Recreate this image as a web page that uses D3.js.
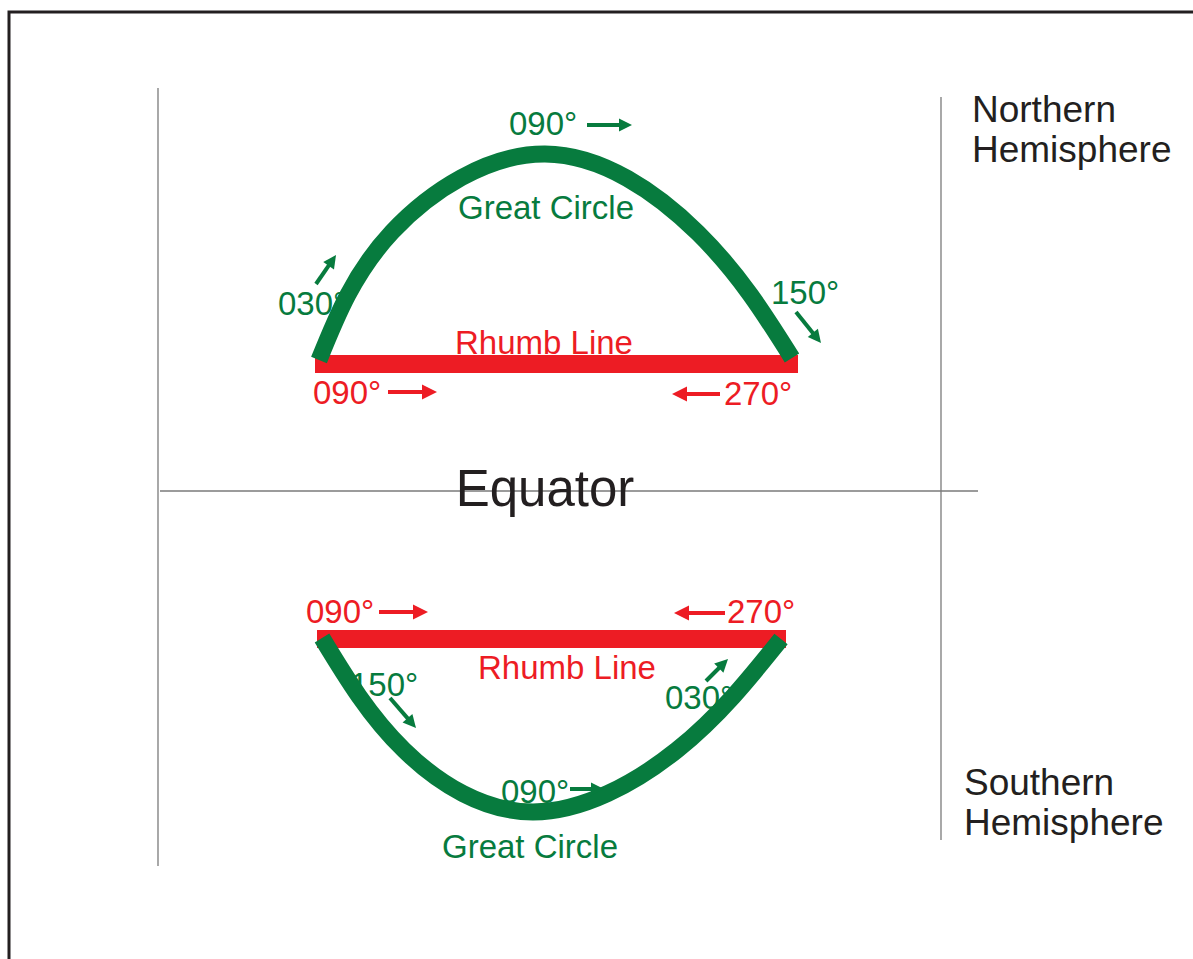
<!DOCTYPE html>
<meta charset="utf-8">
<style>

body {
  margin: 0;
  background: #fff;
}

text {
  font-family: "Liberation Sans", Arial, Helvetica, sans-serif;
}

.guide {
  fill: none;
  stroke: #7a7a7a;
  stroke-width: 1.3px;
}

.arc {
  fill: none;
  stroke: #077b3e;
  stroke-width: 17px;
  stroke-linecap: butt;
}

</style>
<body>

<script src="https://cdn.jsdelivr.net/npm/d3@7/dist/d3.min.js"></script>
<script>

var width = 1193,
    height = 959;

var green = "#077b3e",
    red = "#ed1c24",
    ink = "#231f20";

// diagram units (same grid as the picture)
var x = d3.scaleLinear().domain([0, 1193]).range([0, width]);
var y = d3.scaleLinear().domain([0, 959]).range([0, height]);

// great circle tracks
var northArc = [[319, 360], [392, 232], [545, 154], [698, 233], [792, 358]];
var southArc = [[322, 638], [404, 750], [533, 812], [677, 750], [781, 639]];

// rhumb lines: x0, x1, top, bottom
var rhumbs = [[315, 798, 355, 373], [317, 786, 630, 648]];

// equator and hemisphere borders
var guides = [[[160, 491], [978, 491]],
              [[158, 88], [158, 866]],
              [[941, 97], [941, 840]]];

// heading labels: text, x, y, colour, anchor, size
var labels = [
  ["090°", 509, 135, green, "start", 33],
  ["Great Circle", 546, 219, green, "middle", 33],
  ["030°", 278, 315, green, "start", 33],
  ["150°", 771, 304, green, "start", 33],
  ["Rhumb Line", 544, 354, red, "middle", 33],
  ["090°", 313, 404, red, "start", 33],
  ["270°", 724, 405, red, "start", 33],
  ["090°", 306, 623, red, "start", 33],
  ["270°", 727, 623, red, "start", 33],
  ["Rhumb Line", 567, 679, red, "middle", 33],
  ["150°", 350, 696, green, "start", 33],
  ["030°", 665, 709, green, "start", 33],
  ["090°", 501, 803, green, "start", 33],
  ["Great Circle", 530, 858, green, "middle", 33],
  ["Equator", 545, 506, ink, "middle", 51]
];

var hemispheres = [
  [["Northern", "Hemisphere"], 972, 122],
  [["Southern", "Hemisphere"], 964, 795]
];

// heading arrows: from, to, colour
var arrows = [
  [[587, 125], [632, 125], green],
  [[316, 284], [336, 255], green],
  [[796, 312], [821, 343], green],
  [[388, 392], [437, 392], red],
  [[720, 394], [672, 394], red],
  [[379, 612], [428, 612], red],
  [[725, 613], [674, 613], red],
  [[390, 698], [416, 728], green],
  [[706, 681], [728, 659], green],
  [[570, 789], [604, 789], green]
];

var svg = d3.select("body").append("svg")
    .attr("width", width)
    .attr("height", height);

// page frame
svg.append("path")
    .attr("d", "M" + x(9) + "," + y(959) + "V" + y(12) + "H" + x(1193))
    .style("fill", "none")
    .style("stroke", ink)
    .style("stroke-width", 3);

var line = d3.line()
    .x(function(d) { return x(d[0]); })
    .y(function(d) { return y(d[1]); });

svg.selectAll(".guide")
    .data(guides)
  .enter().append("path")
    .attr("class", "guide")
    .attr("d", line);

svg.selectAll(".rhumb")
    .data(rhumbs)
  .enter().append("rect")
    .attr("class", "rhumb")
    .attr("x", function(d) { return x(d[0]); })
    .attr("y", function(d) { return y(d[2]); })
    .attr("width", function(d) { return x(d[1]) - x(d[0]); })
    .attr("height", function(d) { return y(d[3]) - y(d[2]); })
    .style("fill", red);

var arcLine = d3.line()
    .x(function(d) { return x(d[0]); })
    .y(function(d) { return y(d[1]); })
    .curve(d3.curveNatural);

svg.selectAll(".arc")
    .data([northArc, southArc])
  .enter().append("path")
    .attr("class", "arc")
    .attr("d", arcLine);

// arrows: shaft plus filled head
arrows.forEach(function(a) {
  var x0 = x(a[0][0]), y0 = y(a[0][1]),
      x1 = x(a[1][0]), y1 = y(a[1][1]);
  var len = Math.hypot(x1 - x0, y1 - y0),
      ux = (x1 - x0) / len, uy = (y1 - y0) / len;
  var head = a[2] == red ? 15 : 13,
      half = a[2] == red ? 7.5 : 6.5;
  var bx = x1 - ux * head, by = y1 - uy * head;
  svg.append("line")
      .attr("x1", x0).attr("y1", y0)
      .attr("x2", bx + ux).attr("y2", by + uy)
      .style("stroke", a[2])
      .style("stroke-width", 4);
  svg.append("path")
      .attr("d", "M" + x1 + "," + y1 +
                 "L" + (bx - uy * half) + "," + (by + ux * half) +
                 "L" + (bx + uy * half) + "," + (by - ux * half) + "Z")
      .style("fill", a[2]);
});

svg.selectAll(".label")
    .data(labels)
  .enter().append("text")
    .attr("class", "label")
    .attr("x", function(d) { return x(d[1]); })
    .attr("y", function(d) { return y(d[2]); })
    .attr("text-anchor", function(d) { return d[4]; })
    .style("fill", function(d) { return d[3]; })
    .style("font-size", function(d) { return d[5] + "px"; })
    .text(function(d) { return d[0]; });

hemispheres.forEach(function(h) {
  var t = svg.append("text")
      .attr("x", x(h[1]))
      .attr("y", y(h[2]))
      .style("fill", ink)
      .style("font-size", "37px");
  h[0].forEach(function(word, i) {
    t.append("tspan")
        .attr("x", x(h[1]))
        .attr("dy", i ? 40 : 0)
        .text(word);
  });
});

</script>
</body>
</html>
